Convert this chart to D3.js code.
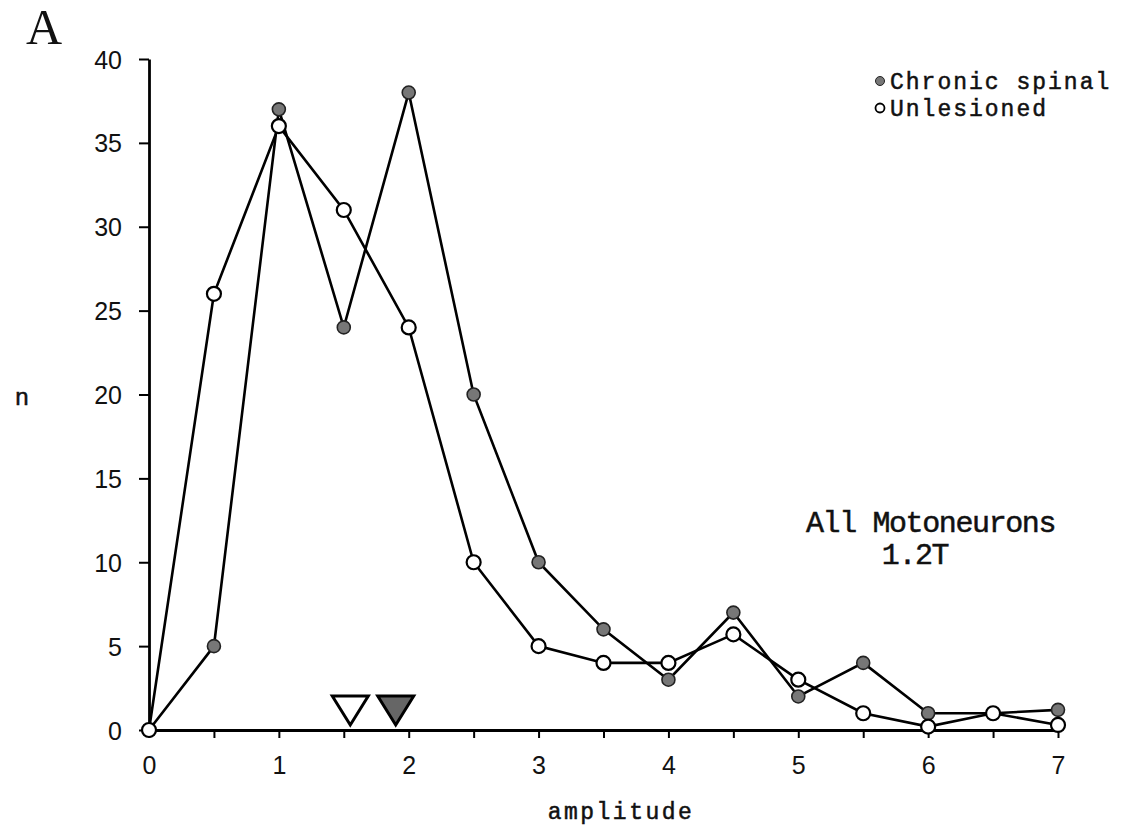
<!DOCTYPE html>
<html>
<head>
	<meta charset="utf-8">
	<title>All Motoneurons 1.2T</title>
	<style>
		html, body {
			margin: 0;
			padding: 0;
			background: #fff;
		}
		svg {
			display: block;
		}
		.tick text {
			font-family: 'Liberation Sans', Arial, sans-serif;
			font-size: 25px;
			fill: #111;
		}
		.mono {
			font-family: 'Liberation Mono', 'Courier New', monospace;
			fill: #111;
			stroke: #111;
			stroke-width: 0.5px;
		}
	</style>
</head>
<body>
	<svg id="chart" width="1121" height="828"></svg>

	<script src="https://cdnjs.cloudflare.com/ajax/libs/d3/7.8.5/d3.min.js"></script>
	<script>
		// amplitude bins (x) and counts per bin for the two groups
		var amplitude = [0, 0.5, 1, 1.5, 2, 2.5, 3, 3.5, 4, 4.5, 5, 5.5, 6, 6.5, 7];
		var chronicSpinal = [0, 5, 37, 24, 38, 20, 10, 6, 3, 7, 2, 4, 1, 1, 1.2];
		var unlesioned = [0, 26, 36, 31, 24, 10, 5, 4, 4, 5.7, 3, 1, 0.2, 1, 0.3];

		// mean amplitude markers (triangles over the axis)
		var meanUnlesioned = 1.55;
		var meanChronic = 1.9;

		var xTicks = [0, 0.5, 1, 1.5, 2, 2.5, 3, 3.5, 4, 4.5, 5, 5.5, 6, 6.5, 7];
		var yTicks = [0, 5, 10, 15, 20, 25, 30, 35, 40];

		var svg = d3.select('#chart');

		var x = d3.scaleLinear().domain([0, 7]).range([149, 1058]);
		var y = d3.scaleLinear().domain([0, 40]).range([730, 59]);

		// axes
		var xAxis = d3.axisBottom(x)
			.tickValues(xTicks)
			.tickFormat(function (d) { return d % 1 === 0 ? d : ''; })
			.tickSize(8)
			.tickSizeOuter(0)
			.tickPadding(18);

		var yAxis = d3.axisLeft(y)
			.tickValues(yTicks)
			.tickSize(10)
			.tickSizeOuter(0)
			.tickPadding(17);

		var gx = svg.append('g')
			.attr('transform', 'translate(0,' + y(0) + ')')
			.call(xAxis);
		gx.select('.domain').attr('stroke-width', 2.8);
		gx.selectAll('.tick line').attr('stroke-width', 2);

		var gy = svg.append('g')
			.attr('transform', 'translate(' + x(0) + ',0)')
			.call(yAxis);
		gy.select('.domain').attr('stroke-width', 2.8);
		gy.selectAll('.tick line').attr('stroke-width', 2);
		gy.selectAll('.tick text').attr('dy', '0.36em');

		// mean triangles
		var tri = function (v) {
			var cx = x(v), tip = y(0) - 5;
			return 'M' + (cx - 18) + ',' + (tip - 29) + 'L' + (cx + 18) + ',' + (tip - 29) + 'L' + cx + ',' + tip + 'Z';
		};
		svg.append('path').attr('d', tri(meanUnlesioned))
			.attr('fill', '#fff').attr('stroke', '#000').attr('stroke-width', 3);
		svg.append('path').attr('d', tri(meanChronic))
			.attr('fill', '#666').attr('stroke', '#000').attr('stroke-width', 3);

		// lines
		var line = d3.line()
			.x(function (d) { return x(d[0]); })
			.y(function (d) { return y(d[1]); });

		var chronicPts = d3.zip(amplitude, chronicSpinal);
		var unlesionedPts = d3.zip(amplitude, unlesioned);

		svg.append('path').datum(chronicPts)
			.attr('d', line).attr('fill', 'none')
			.attr('stroke', '#000').attr('stroke-width', 2.6);
		svg.append('path').datum(unlesionedPts)
			.attr('d', line).attr('fill', 'none')
			.attr('stroke', '#000').attr('stroke-width', 2.6);

		// points
		svg.append('g').selectAll('circle')
			.data(chronicPts)
			.join('circle')
			.attr('cx', function (d) { return x(d[0]); })
			.attr('cy', function (d) { return y(d[1]); })
			.attr('r', 6.5)
			.attr('fill', '#777')
			.attr('stroke', '#222')
			.attr('stroke-width', 1.6);

		svg.append('g').selectAll('circle')
			.data(unlesionedPts)
			.join('circle')
			.attr('cx', function (d) { return x(d[0]); })
			.attr('cy', function (d) { return y(d[1]); })
			.attr('r', 7)
			.attr('fill', '#fff')
			.attr('stroke', '#000')
			.attr('stroke-width', 2.2);

		// legend
		var legend = svg.append('g');
		legend.append('circle').attr('cx', 880).attr('cy', 81).attr('r', 4.5)
			.attr('fill', '#777').attr('stroke', '#222').attr('stroke-width', 1);
		legend.append('circle').attr('cx', 880).attr('cy', 108).attr('r', 4.5)
			.attr('fill', '#fff').attr('stroke', '#000').attr('stroke-width', 1.8);
		legend.append('text').attr('class', 'mono')
			.attr('x', 890).attr('y', 89)
			.style('font-size', '23px').style('letter-spacing', '2px')
			.text('Chronic spinal');
		legend.append('text').attr('class', 'mono')
			.attr('x', 890).attr('y', 116)
			.style('font-size', '23px').style('letter-spacing', '2px')
			.text('Unlesioned');

		// annotation
		svg.append('text').attr('class', 'mono')
			.attr('x', 806).attr('y', 532)
			.style('font-size', '30px').style('letter-spacing', '-1.4px')
			.text('All Motoneurons');
		svg.append('text').attr('class', 'mono')
			.attr('x', 915).attr('y', 564).attr('text-anchor', 'middle')
			.style('font-size', '30px').style('letter-spacing', '-1.4px')
			.text('1.2T');

		// axis titles
		svg.append('text').attr('class', 'mono')
			.attr('x', 621).attr('y', 819).attr('text-anchor', 'middle')
			.style('font-size', '23px').style('letter-spacing', '2.5px')
			.text('amplitude');
		svg.append('text').attr('class', 'mono')
			.attr('x', 22).attr('y', 405).attr('text-anchor', 'middle')
			.style('font-size', '24px')
			.text('n');

		// panel letter
		svg.append('text')
			.attr('x', 26).attr('y', 44)
			.style('font-family', "'Liberation Serif', 'Times New Roman', serif")
			.style('font-size', '50px')
			.style('fill', '#111')
			.text('A');
	</script>
</body>
</html>
